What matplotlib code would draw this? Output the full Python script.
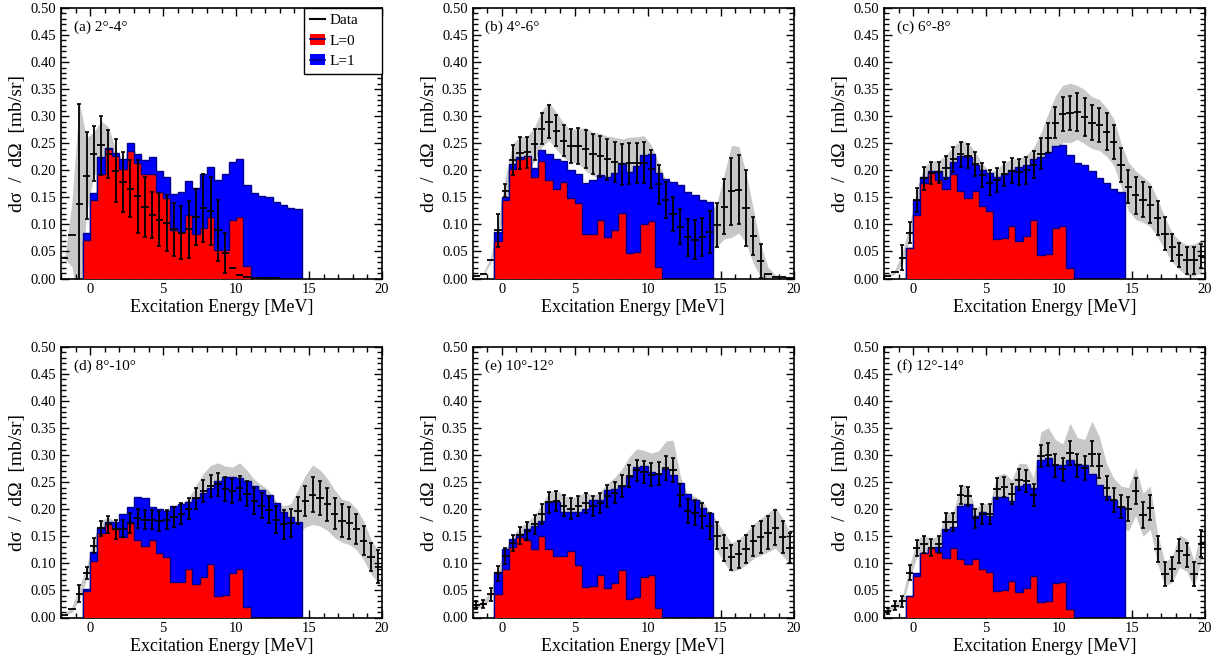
import numpy as np
import matplotlib
matplotlib.use("Agg")
import matplotlib.pyplot as plt
from matplotlib.patches import Patch
from matplotlib.lines import Line2D
from matplotlib.ticker import MultipleLocator, FormatStrFormatter

plt.rcParams['font.family'] = ['Liberation Serif', 'DejaVu Serif']

nan = np.nan
panel_labels = ['(a) 2°-4°', '(b) 4°-6°', '(c) 6°-8°', '(d) 8°-10°', '(e) 10°-12°', '(f) 12°-14°']

# data bins: centres -1.75 ... 19.75 (0.5 MeV)
data_a = [0.037, 0.081, 0.137, 0.190, 0.231, 0.246, 0.230, 0.199, 0.178, 0.166, 0.152, 0.132, 0.117, 0.109, 0.103,
          0.091, 0.085, 0.091, 0.113, 0.131, 0.125, 0.089, 0.048, 0.020, 0.006, 0.002, 0.001, 0.001, 0.001, 0.001,
          nan, nan, nan, nan, nan, nan, nan, nan, nan, nan, nan, nan, nan, nan]
stat_a = [0.000, 0.000, 0.185, 0.080, 0.050, 0.055, 0.045, 0.058, 0.055, 0.053, 0.067, 0.056, 0.042, 0.049, 0.052,
          0.049, 0.049, 0.053, 0.052, 0.063, 0.063, 0.056, 0.037, 0.000, 0.000, 0.000, 0.000, 0.000, 0.000, 0.000,
          nan, nan, nan, nan, nan, nan, nan, nan, nan, nan, nan, nan, nan, nan]
sys_a = [0.000, 0.060, 0.190, 0.070, 0.040, 0.045, 0.050, 0.040, 0.030, 0.028, 0.025, 0.022, 0.020, 0.018, 0.017,
         0.015, 0.014, 0.015, 0.018, 0.020, 0.020, 0.015, 0.008, 0.004, 0.001, 0.001, 0.001, 0.001, 0.001, 0.001,
         nan, nan, nan, nan, nan, nan, nan, nan, nan, nan, nan, nan, nan, nan]

data_b = [0.005, 0.009, 0.034, 0.089, 0.162, 0.219, 0.232, 0.233, 0.248, 0.277, 0.290, 0.273, 0.255, 0.245, 0.245,
          0.239, 0.230, 0.226, 0.220, 0.216, 0.211, 0.213, 0.214, 0.214, 0.202, 0.174, 0.145, 0.119, 0.096, 0.076,
          0.072, 0.077, 0.086, 0.099, 0.133, 0.161, 0.164, 0.130, 0.078, 0.032, 0.009, 0.003, 0.002, 0.001]
stat_b = [0.000, 0.000, 0.000, 0.031, 0.012, 0.028, 0.029, 0.028, 0.029, 0.028, 0.031, 0.029, 0.029, 0.032, 0.034,
          0.035, 0.037, 0.038, 0.038, 0.037, 0.038, 0.038, 0.037, 0.038, 0.035, 0.036, 0.034, 0.031, 0.032, 0.034,
          0.036, 0.035, 0.038, 0.040, 0.050, 0.062, 0.064, 0.070, 0.035, 0.031, 0.000, 0.000, 0.000, 0.000]
sys_b = [0.001, 0.002, 0.006, 0.015, 0.025, 0.030, 0.030, 0.030, 0.032, 0.034, 0.035, 0.034, 0.032, 0.030, 0.032,
         0.040, 0.040, 0.042, 0.043, 0.045, 0.047, 0.048, 0.048, 0.050, 0.045, 0.040, 0.035, 0.030, 0.030, 0.030,
         0.030, 0.032, 0.035, 0.040, 0.060, 0.085, 0.080, 0.065, 0.050, 0.030, 0.012, 0.004, 0.002, 0.001]

data_c = [0.005, 0.012, 0.038, 0.085, 0.145, 0.185, 0.195, 0.196, 0.205, 0.220, 0.230, 0.226, 0.211, 0.191, 0.177,
          0.182, 0.193, 0.199, 0.197, 0.200, 0.210, 0.231, 0.260, 0.288, 0.304, 0.306, 0.307, 0.299, 0.288, 0.284,
          0.271, 0.252, 0.210, 0.170, 0.154, 0.146, 0.136, 0.112, 0.083, 0.058, 0.043, 0.034, 0.034, 0.041]
stat_c = [0.000, 0.000, 0.023, 0.020, 0.022, 0.022, 0.020, 0.020, 0.021, 0.023, 0.023, 0.022, 0.022, 0.022, 0.023,
          0.022, 0.022, 0.023, 0.024, 0.025, 0.025, 0.028, 0.028, 0.029, 0.031, 0.032, 0.035, 0.035, 0.032, 0.031,
          0.034, 0.032, 0.031, 0.031, 0.034, 0.033, 0.033, 0.031, 0.031, 0.025, 0.022, 0.025, 0.025, 0.022]
sys_c = [0.002, 0.004, 0.010, 0.015, 0.020, 0.022, 0.022, 0.022, 0.023, 0.024, 0.025, 0.025, 0.023, 0.021, 0.020,
         0.020, 0.021, 0.022, 0.025, 0.028, 0.032, 0.038, 0.045, 0.050, 0.053, 0.055, 0.050, 0.050, 0.048, 0.047,
         0.045, 0.043, 0.040, 0.045, 0.045, 0.042, 0.040, 0.035, 0.030, 0.027, 0.027, 0.028, 0.030, 0.030]

data_d = [0.005, 0.015, 0.044, 0.082, 0.133, 0.165, 0.172, 0.163, 0.164, 0.175, 0.183, 0.181, 0.181, 0.178, 0.181,
          0.186, 0.192, 0.201, 0.220, 0.234, 0.243, 0.246, 0.238, 0.234, 0.240, 0.229, 0.215, 0.207, 0.199, 0.181,
          0.172, 0.175, 0.197, 0.215, 0.227, 0.221, 0.209, 0.192, 0.179, 0.175, 0.163, 0.142, 0.112, 0.094]
stat_d = [0.000, 0.000, 0.016, 0.011, 0.014, 0.014, 0.015, 0.017, 0.016, 0.018, 0.018, 0.018, 0.018, 0.018, 0.018,
          0.018, 0.019, 0.019, 0.020, 0.021, 0.021, 0.021, 0.022, 0.022, 0.022, 0.023, 0.024, 0.024, 0.024, 0.025,
          0.026, 0.026, 0.025, 0.028, 0.032, 0.032, 0.030, 0.028, 0.031, 0.030, 0.028, 0.027, 0.026, 0.031]
sys_d = [0.002, 0.005, 0.012, 0.012, 0.014, 0.014, 0.014, 0.014, 0.015, 0.016, 0.017, 0.017, 0.017, 0.017, 0.017,
         0.017, 0.018, 0.020, 0.025, 0.032, 0.038, 0.040, 0.042, 0.044, 0.046, 0.043, 0.040, 0.038, 0.036, 0.034,
         0.034, 0.035, 0.040, 0.048, 0.055, 0.052, 0.048, 0.044, 0.040, 0.040, 0.038, 0.036, 0.032, 0.030]

data_e = [0.023, 0.025, 0.043, 0.082, 0.114, 0.137, 0.152, 0.160, 0.172, 0.191, 0.213, 0.215, 0.207, 0.201, 0.206,
          0.212, 0.206, 0.212, 0.224, 0.231, 0.243, 0.261, 0.272, 0.269, 0.264, 0.266, 0.276, 0.273, 0.226, 0.197,
          0.194, 0.188, 0.169, 0.151, 0.129, 0.111, 0.117, 0.127, 0.141, 0.149, 0.157, 0.166, 0.149, 0.129]
stat_e = [0.008, 0.008, 0.012, 0.014, 0.015, 0.015, 0.016, 0.017, 0.017, 0.018, 0.019, 0.019, 0.019, 0.019, 0.019,
          0.019, 0.019, 0.019, 0.020, 0.020, 0.020, 0.020, 0.020, 0.021, 0.021, 0.021, 0.022, 0.022, 0.020, 0.022,
          0.023, 0.023, 0.024, 0.025, 0.024, 0.023, 0.025, 0.026, 0.028, 0.029, 0.030, 0.032, 0.030, 0.028]
sys_e = [0.004, 0.005, 0.008, 0.010, 0.012, 0.014, 0.015, 0.016, 0.017, 0.018, 0.020, 0.020, 0.019, 0.019, 0.019,
         0.020, 0.020, 0.020, 0.024, 0.028, 0.032, 0.036, 0.040, 0.040, 0.040, 0.042, 0.050, 0.055, 0.035, 0.030,
         0.030, 0.028, 0.027, 0.027, 0.028, 0.027, 0.028, 0.030, 0.032, 0.034, 0.036, 0.038, 0.035, 0.030]

data_f = [0.012, 0.022, 0.030, 0.083, 0.128, 0.135, 0.129, 0.135, 0.177, 0.177, 0.226, 0.224, 0.183, 0.191, 0.191,
          0.238, 0.241, 0.228, 0.255, 0.252, 0.226, 0.298, 0.301, 0.281, 0.274, 0.304, 0.281, 0.277, 0.303, 0.280,
          0.240, 0.217, 0.205, 0.200, 0.233, 0.190, 0.203, 0.127, 0.080, 0.089, 0.123, 0.115, 0.080, 0.136]
stat_f = [0.006, 0.008, 0.010, 0.014, 0.015, 0.016, 0.016, 0.016, 0.017, 0.017, 0.017, 0.017, 0.017, 0.018, 0.018,
          0.019, 0.019, 0.019, 0.020, 0.020, 0.020, 0.020, 0.021, 0.021, 0.021, 0.022, 0.022, 0.022, 0.023, 0.023,
          0.022, 0.022, 0.022, 0.022, 0.024, 0.024, 0.023, 0.024, 0.022, 0.022, 0.022, 0.022, 0.022, 0.025]
sys_f = [0.005, 0.006, 0.008, 0.012, 0.016, 0.017, 0.016, 0.017, 0.018, 0.018, 0.020, 0.020, 0.018, 0.020, 0.020,
         0.024, 0.026, 0.026, 0.030, 0.032, 0.032, 0.045, 0.050, 0.048, 0.047, 0.055, 0.052, 0.052, 0.060, 0.055,
         0.045, 0.040, 0.038, 0.040, 0.045, 0.040, 0.040, 0.028, 0.022, 0.024, 0.030, 0.030, 0.025, 0.030]

# L=0+L=1 (blue, total) histogram: bins -0.5 ... 14.5
total_a = [0.084, 0.158, 0.224, 0.242, 0.232, 0.220, 0.250, 0.230, 0.219, 0.224, 0.199, 0.188, 0.157, 0.160, 0.181,
           0.168, 0.193, 0.207, 0.182, 0.193, 0.215, 0.220, 0.173, 0.158, 0.152, 0.151, 0.142, 0.136, 0.130, 0.128]
total_b = [0.086, 0.151, 0.211, 0.224, 0.216, 0.205, 0.237, 0.230, 0.220, 0.218, 0.200, 0.194, 0.176, 0.182, 0.191,
           0.188, 0.195, 0.213, 0.197, 0.208, 0.228, 0.231, 0.195, 0.183, 0.179, 0.173, 0.160, 0.154, 0.146, 0.142]
total_c = [0.057, 0.146, 0.187, 0.199, 0.199, 0.188, 0.215, 0.227, 0.225, 0.210, 0.200, 0.195, 0.188, 0.193, 0.200,
           0.207, 0.210, 0.220, 0.225, 0.234, 0.244, 0.247, 0.228, 0.213, 0.210, 0.199, 0.185, 0.176, 0.166, 0.160]
total_d = [0.052, 0.121, 0.166, 0.177, 0.177, 0.191, 0.205, 0.223, 0.220, 0.205, 0.200, 0.197, 0.207, 0.209, 0.213,
           0.221, 0.231, 0.240, 0.252, 0.260, 0.260, 0.258, 0.252, 0.243, 0.236, 0.226, 0.211, 0.195, 0.185, 0.177]
total_e = [0.084, 0.127, 0.146, 0.154, 0.163, 0.169, 0.178, 0.213, 0.213, 0.195, 0.195, 0.195, 0.200, 0.217, 0.217,
           0.235, 0.238, 0.243, 0.260, 0.279, 0.280, 0.269, 0.266, 0.275, 0.264, 0.248, 0.229, 0.218, 0.203, 0.193]
total_f = [0.040, 0.083, 0.119, 0.129, 0.131, 0.164, 0.168, 0.207, 0.209, 0.187, 0.195, 0.188, 0.223, 0.223, 0.215,
           0.243, 0.246, 0.240, 0.292, 0.295, 0.281, 0.281, 0.292, 0.283, 0.281, 0.265, 0.244, 0.224, 0.218, 0.205]

# L=0 (red) histogram: bins -0.5 ... 11.0
l0_a = [0.071, 0.145, 0.194, 0.239, 0.226, 0.203, 0.236, 0.213, 0.194, 0.194, 0.160, 0.148, 0.089, 0.086, 0.117,
        0.083, 0.094, 0.113, 0.052, 0.052, 0.108, 0.114, 0.023]
l0_b = [0.070, 0.145, 0.202, 0.220, 0.226, 0.188, 0.218, 0.182, 0.166, 0.179, 0.148, 0.139, 0.082, 0.083, 0.109,
        0.076, 0.089, 0.121, 0.047, 0.049, 0.100, 0.107, 0.022]
l0_c = [0.057, 0.117, 0.177, 0.195, 0.182, 0.166, 0.194, 0.162, 0.148, 0.162, 0.134, 0.125, 0.073, 0.074, 0.097,
        0.070, 0.078, 0.109, 0.043, 0.045, 0.094, 0.097, 0.020]
l0_d = [0.049, 0.105, 0.156, 0.172, 0.164, 0.148, 0.174, 0.143, 0.132, 0.143, 0.119, 0.111, 0.065, 0.066, 0.089,
        0.062, 0.074, 0.098, 0.040, 0.041, 0.083, 0.089, 0.020]
l0_e = [0.043, 0.090, 0.130, 0.148, 0.143, 0.127, 0.151, 0.126, 0.114, 0.114, 0.122, 0.097, 0.057, 0.058, 0.078,
        0.055, 0.063, 0.088, 0.035, 0.037, 0.074, 0.078, 0.018]
l0_f = [0.039, 0.077, 0.119, 0.129, 0.121, 0.110, 0.129, 0.108, 0.098, 0.109, 0.090, 0.084, 0.049, 0.050, 0.068,
        0.047, 0.055, 0.076, 0.029, 0.031, 0.063, 0.066, 0.015]

centers = np.arange(-1.75, 20.0, 0.5)
edges_tot = np.arange(-0.5, 14.51, 0.5)
edges_l0 = np.arange(-0.5, 11.01, 0.5)

panels = [
    (data_a, stat_a, sys_a, total_a, l0_a),
    (data_b, stat_b, sys_b, total_b, l0_b),
    (data_c, stat_c, sys_c, total_c, l0_c),
    (data_d, stat_d, sys_d, total_d, l0_d),
    (data_e, stat_e, sys_e, total_e, l0_e),
    (data_f, stat_f, sys_f, total_f, l0_f),
]

W, H = 1227, 664
fig = plt.figure(figsize=(W / 100, H / 100), dpi=100)
lefts = [61, 472.5, 884]
tops = [8, 347]
aw, ah = 321, 270.5

for i, (dv, st, sy, tot, l0) in enumerate(panels):
    r, c = divmod(i, 3)
    ax = fig.add_axes([lefts[c] / W, 1 - (tops[r] + ah) / H, aw / W, ah / H])
    dv = np.array(dv); st = np.array(st); sy = np.array(sy)
    ax.fill_between(centers, dv - sy, dv + sy, color='#c8c8c8', lw=0, zorder=1)
    ax.stairs(tot, edges_tot, fill=True, facecolor='#0000ff', edgecolor='#00008b', lw=1.0, zorder=2)
    ax.stairs(l0, edges_l0, fill=True, facecolor='#ff0000', edgecolor='#00008b', lw=1.0, zorder=3)
    has_err = st > 0
    ax.errorbar(centers[has_err], dv[has_err], yerr=st[has_err], fmt='none', ecolor='k',
                elinewidth=1.3, capsize=1.3, capthick=1.2, zorder=5)
    ax.errorbar(centers, dv, xerr=0.25, fmt='none', ecolor='k', elinewidth=1.3, capsize=0, zorder=5)
    ax.set_xlim(-2, 20)
    ax.set_ylim(0, 0.5)
    ax.xaxis.set_major_locator(MultipleLocator(5))
    ax.xaxis.set_minor_locator(MultipleLocator(1))
    ax.yaxis.set_major_locator(MultipleLocator(0.05))
    ax.yaxis.set_minor_locator(MultipleLocator(0.01))
    ax.yaxis.set_major_formatter(FormatStrFormatter('%.2f'))
    ax.tick_params(which='both', direction='in', top=True, right=True, labelsize=10.5, width=1.0)
    ax.tick_params(which='major', length=6)
    ax.tick_params(which='minor', length=3.5)
    for lab in ax.get_xticklabels() + ax.get_yticklabels():
        lab.set_fontfamily(['Liberation Serif', 'DejaVu Serif'])
    for sp in ax.spines.values():
        sp.set_linewidth(1.2)
    ax.set_xlabel('Excitation Energy [MeV]', fontsize=13, labelpad=2)
    ax.set_ylabel('dσ  /  dΩ  [mb/sr]', fontsize=14, labelpad=3)
    ax.text(0.04, 0.955, panel_labels[i], transform=ax.transAxes, ha='left', va='top', fontsize=11)
    if i == 0:
        handles = [Line2D([], [], color='k', lw=1.5),
                   (Patch(facecolor='#ff0000', edgecolor='none'), Line2D([], [], color='#00008b', lw=1.2)),
                   (Patch(facecolor='#0000ff', edgecolor='none'), Line2D([], [], color='#00008b', lw=1.2))]
        leg = ax.legend(handles, ['Data', 'L=0', 'L=1'], loc='upper left',
                        bbox_to_anchor=(0.758, 0.0, 0.242, 1.0), mode='expand',
                        borderaxespad=0, fancybox=False, framealpha=1, edgecolor='k', fontsize=11,
                        handlelength=1.0, handletextpad=0.3, labelspacing=0.45, borderpad=0.35)
        leg.get_frame().set_linewidth(1.0)
        leg.set_zorder(10)

fig.savefig('out.png', dpi=100)
